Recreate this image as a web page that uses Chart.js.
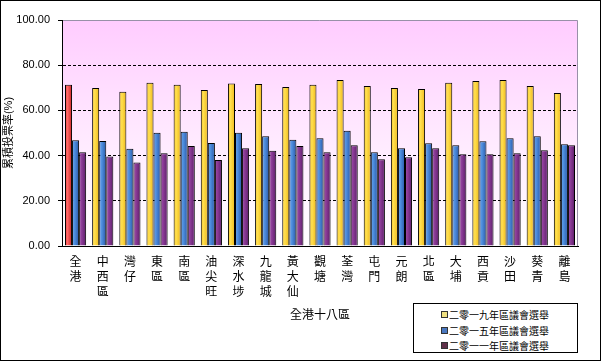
<!DOCTYPE html>
<html lang="zh-Hant">

<head>
    <meta charset="UTF-8">
    <title>累積投票率</title>
    <script src="https://cdn.jsdelivr.net/npm/chart.js"></script>
    <style>
        body {
            margin: 0;
            font-family: Arial, "Liberation Sans", "Noto Sans CJK TC", sans-serif;
        }

        #wrap {
            position: relative;
            width: 601px;
            height: 361px;
            background: #fff;
        }

        #frame {
            position: absolute;
            left: 0;
            top: 0;
            width: 601px;
            height: 361px;
            box-sizing: border-box;
            border: 1px solid #000;
            pointer-events: none;
        }

        #legend {
            position: absolute;
            left: 413px;
            top: 303px;
            width: 165px;
            height: 50px;
            box-sizing: border-box;
            border: 1px solid #000;
            background: #fff;
            padding-top: 3px;
            font-size: 10px;
            font-family: "Noto Sans CJK TC", sans-serif;
        }

        #legend div {
            height: 15.5px;
            line-height: 15.5px;
            padding-left: 27px;
        }

        #legend span {
            display: inline-block;
            width: 5px;
            height: 5px;
            border: 1px solid #333;
            margin-right: 1px;
            vertical-align: 1px;
        }
    </style>
</head>

<body>
    <div id="wrap">
        <canvas id="turnoutChart" width="601" height="361"></canvas>
        <div id="legend"></div>
        <div id="frame"></div>
    </div>

    <script>
        // districts (全港 + 18 districts), labels are stacked one character per line
        var districts = ['全港', '中西區', '灣仔', '東區', '南區', '油尖旺', '深水埗', '九龍城', '黃大仙',
            '觀塘', '荃灣', '屯門', '元朗', '北區', '大埔', '西貢', '沙田', '葵青', '離島'];

        // cumulative turnout (%)
        var turnout2019 = [71.4, 69.9, 68.2, 72.2, 71.3, 69.0, 71.9, 71.7, 70.4, 71.3, 73.5, 70.8, 69.9, 69.5, 72.2, 73.0, 73.5, 70.8, 67.7];
        var turnout2015 = [46.8, 46.5, 43.0, 50.1, 50.5, 45.6, 50.1, 48.6, 47.0, 47.7, 51.0, 41.5, 43.3, 45.5, 44.6, 46.4, 47.7, 48.6, 45.0];
        var turnout2011 = [41.5, 39.6, 37.0, 41.0, 44.3, 38.1, 43.3, 42.1, 44.3, 41.5, 44.6, 38.4, 39.3, 43.3, 40.6, 40.6, 41.0, 42.4, 44.6];

        var seriesNames = ['二零一九年區議會選舉', '二零一五年區議會選舉', '二零一一年區議會選舉'];
        var swatches = ['#F0E080', '#4A78C0', '#603048'];

        var yTicks = [0, 20, 40, 60, 80, 100];

        var catPct = 0.78;

        // left-to-right shading for a bar, like the old office charts
        function shade(c, stops) {
            var chart = c.chart;
            var area = chart.chartArea;
            if (!area) return stops[1];
            var x = chart.scales.x;
            var catW = area.width / districts.length;
            var barW = catW * catPct / 3;
            var left = x.getPixelForValue(c.dataIndex) - catW * catPct / 2 + c.datasetIndex * barW;
            var g = chart.ctx.createLinearGradient(left, 0, left + barW, 0);
            g.addColorStop(0, stops[0]);
            g.addColorStop(0.35, stops[1]);
            g.addColorStop(1, stops[2]);
            return g;
        }

        var yellow = ['#F8C020', '#FFE050', '#F0B818'];
        var red = ['#F04040', '#FF6868', '#C82020'];
        var blue = ['#6AA0E8', '#5090E0', '#2858A8'];
        var purple = ['#A050A8', '#8C3C98', '#5C1C68'];

        // pink to white background of the plot + grey frame on top / right
        var plotBg = {
            id: 'plotBg',
            beforeDraw: function (chart) {
                var a = chart.chartArea;
                var ctx = chart.ctx;
                var g = ctx.createLinearGradient(0, a.top, 0, a.bottom);
                g.addColorStop(0, '#FFCCFF');
                g.addColorStop(0.45, '#FFE6FF');
                g.addColorStop(1, '#FFFFFF');
                ctx.save();
                ctx.fillStyle = g;
                ctx.fillRect(a.left, a.top, a.width, a.height);
                ctx.strokeStyle = '#9890A8';
                ctx.lineWidth = 1;
                ctx.beginPath();
                ctx.moveTo(a.left, a.top + 0.5);
                ctx.lineTo(a.right - 0.5, a.top + 0.5);
                ctx.lineTo(a.right - 0.5, a.bottom);
                ctx.stroke();
                ctx.restore();
            }
        };

        var cjk = "Arial, 'Liberation Sans', 'Noto Sans CJK TC', sans-serif";

        new Chart(document.getElementById('turnoutChart'), {
            type: 'bar',
            data: {
                labels: districts.map(function (d) { return d.split(''); }),
                datasets: [{
                    label: seriesNames[0],
                    data: turnout2019,
                    backgroundColor: function (c) { return shade(c, c.dataIndex === 0 ? red : yellow); }
                }, {
                    label: seriesNames[1],
                    data: turnout2015,
                    backgroundColor: function (c) { return shade(c, blue); }
                }, {
                    label: seriesNames[2],
                    data: turnout2011,
                    backgroundColor: function (c) { return shade(c, purple); }
                }]
            },
            options: {
                responsive: false,
                animation: false,
                datasets: {
                    bar: {
                        borderColor: '#000',
                        borderWidth: 1,
                        barPercentage: 1,
                        categoryPercentage: catPct
                    }
                },
                layout: { padding: { left: 0, right: 23, top: 20, bottom: 38 } },
                plugins: {
                    legend: { display: false },
                    tooltip: { enabled: false }
                },
                scales: {
                    x: {
                        afterFit: function (s) { s.height = 77; },
                        grid: { display: false, drawTicks: false },
                        border: { display: true, color: '#000', width: 1 },
                        ticks: {
                            autoSkip: false,
                            maxRotation: 0,
                            padding: 9,
                            color: '#000',
                            font: { family: cjk, size: 12, lineHeight: 1.25 }
                        },
                        title: {
                            display: true,
                            text: '全港十八區',
                            color: '#000',
                            padding: 0,
                            font: { family: cjk, size: 12 }
                        }
                    },
                    y: {
                        min: 0,
                        max: 100,
                        afterFit: function (s) { s.width = 62; },
                        afterBuildTicks: function (s) {
                            s.ticks = yTicks.map(function (v) { return { value: v }; });
                        },
                        // in v4 border.dash also dashes the grid lines
                        border: { display: true, color: '#000', width: 1, dash: [3, 2] },
                        grid: {
                            color: function (c) {
                                var v = c.tick && c.tick.value;
                                return (v === 0 || v === 100) ? 'rgba(0,0,0,0)' : '#000';
                            },
                            tickColor: '#000',
                            tickLength: 4,
                            tickBorderDash: [],
                            lineWidth: 1
                        },
                        ticks: {
                            padding: 8,
                            color: '#000',
                            font: { family: cjk, size: 11 },
                            callback: function (v) { return Number(v).toFixed(2); }
                        },
                        title: {
                            display: true,
                            text: '累積投票率(%)',
                            color: '#000',
                            padding: { top: 2, bottom: 0 },
                            font: { family: cjk, size: 11 }
                        }
                    }
                }
            },
            plugins: [plotBg]
        });

        // legend in its own box, bottom right
        var legend = document.getElementById('legend');
        seriesNames.forEach(function (name, i) {
            var row = document.createElement('div');
            var sw = document.createElement('span');
            sw.style.background = swatches[i];
            row.appendChild(sw);
            row.appendChild(document.createTextNode(name));
            legend.appendChild(row);
        });
    </script>
</body>

</html>
